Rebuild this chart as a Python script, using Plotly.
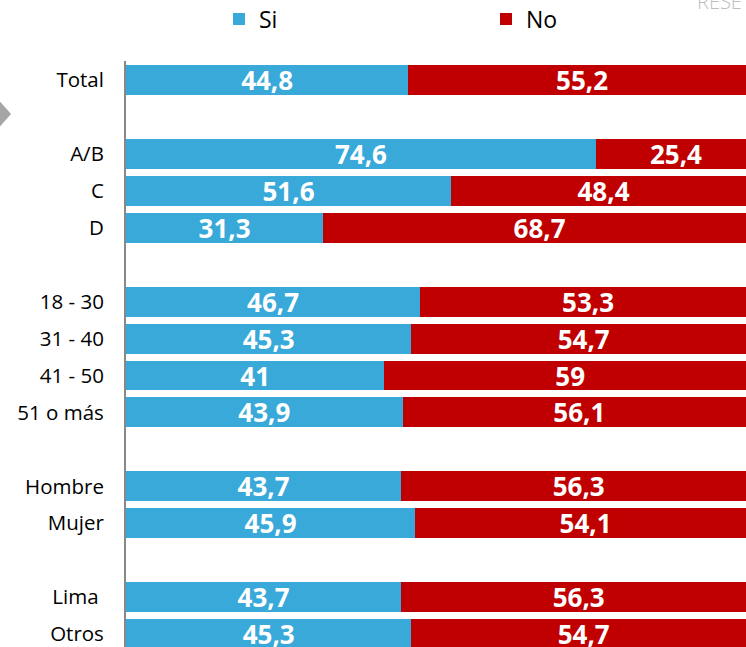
import plotly.graph_objects as go

categories = ["Total", "", "A/B", "C", "D", "", "18 - 30", "31 - 40", "41 - 50", "51 o más",
              "", "Hombre", "Mujer", "", "Lima\u00a0", "Otros"]
si_values = [44.8, None, 74.6, 51.6, 31.3, None, 46.7, 45.3, 41, 43.9, None, 43.7, 45.9, None, 43.7, 45.3]
no_values = [55.2, None, 25.4, 48.4, 68.7, None, 53.3, 54.7, 59, 56.1, None, 56.3, 54.1, None, 56.3, 54.7]
series_names = ["Si", "No"]
series_colors = ["#38A9D9", "#C00000"]

W, H = 746, 647
L, T = 126, 61
PW, PH = W - L, H - T

positions = list(range(len(categories)))
tickvals = [p for p, c in zip(positions, categories) if c]
ticktext = [c for c in categories if c]


def fmt(v):
    return "" if v is None else f"{v:g}".replace(".", ",")


def px(x):
    return (x - L) / PW


def py(y):
    return (H - y) / PH


fig = go.Figure()
legend_ids = ["legend", "legend2"]
for name, vals, col, lg in zip(series_names, [si_values, no_values], series_colors, legend_ids):
    fig.add_trace(go.Bar(
        name=name, y=positions, x=vals, orientation="h", legend=lg,
        marker=dict(color=col, line=dict(width=0)),
        text=[fmt(v) for v in vals], textposition="inside", insidetextanchor="middle",
        textangle=0,
        textfont=dict(family="Open Sans", size=26, color="white", weight="bold"),
        constraintext="none", width=0.81, hoverinfo="skip",
    ))

legend_common = dict(orientation="h", xanchor="left", yref="container", y=1 - 19 / H,
                     yanchor="middle", bgcolor="rgba(0,0,0,0)",
                     font=dict(family="Open Sans", size=23, color="black"))

fig.update_layout(
    width=W, height=H, barmode="stack",
    margin=dict(l=L, r=0, t=T, b=0, autoexpand=False),
    paper_bgcolor="white", plot_bgcolor="white",
    font=dict(family="Open Sans", color="black"),
    xaxis=dict(range=[0, 98.41], visible=False, fixedrange=True),
    yaxis=dict(range=[15.35, -0.514], tickvals=tickvals, ticktext=ticktext,
               showline=True, linecolor="#888888", linewidth=2, showgrid=False,
               zeroline=False, ticks="", ticklabelstandoff=16, ticklabeloverflow="allow",
               fixedrange=True,
               tickfont=dict(family="Open Sans", size=20.5, color="black")),
    showlegend=True,
    legend=dict(x=px(219), **legend_common),
    legend2=dict(x=px(486), **legend_common),
    shapes=[dict(type="path", xref="paper", yref="paper",
                 path=f"M {px(-10)} {py(90)} L {px(11)} {py(114)} L {px(-10)} {py(138)} Z",
                 fillcolor="#A6A6A6", line=dict(width=0))],
    annotations=[dict(text="RESE", xref="paper", yref="paper", x=px(695), y=py(17),
                      xanchor="left", yanchor="bottom", showarrow=False,
                      font=dict(family="Open Sans", size=20, color="#BDBDBD", weight=300))],
)

fig.write_html("out.html", config={"displayModeBar": False},
               post_script="document.body.style.margin='0';document.body.style.overflow='hidden';")
